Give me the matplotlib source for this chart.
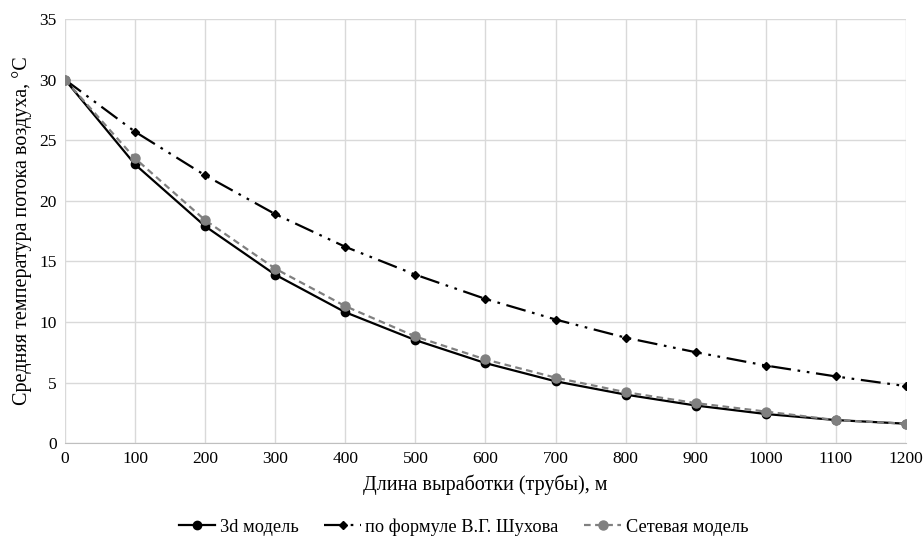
import matplotlib
matplotlib.use('Agg')
import matplotlib.pyplot as plt

plt.rcParams['font.family'] = ['Liberation Serif', 'DejaVu Serif']

length = [0, 100, 200, 300, 400, 500, 600, 700, 800, 900, 1000, 1100, 1200]
model_3d = [30, 23.0, 17.9, 13.9, 10.8, 8.5, 6.6, 5.1, 4.0, 3.1, 2.4, 1.9, 1.6]
shukhov = [30, 25.7, 22.1, 18.9, 16.2, 13.9, 11.9, 10.2, 8.7, 7.5, 6.4, 5.5, 4.7]
network = [30, 23.5, 18.4, 14.4, 11.3, 8.8, 6.9, 5.4, 4.2, 3.3, 2.6, 1.9, 1.6]

fig = plt.figure(figsize=(9.23, 5.45), dpi=100)
ax = fig.add_axes([0.0704, 0.187, 0.9112, 0.778])

ax.plot(length, model_3d, color='black', lw=1.6, marker='o', ms=6,
        label='3d модель', zorder=3)
ax.plot(length, shukhov, color='black', lw=1.6, marker='D', ms=4.5,
        dashes=(9, 3, 1.2, 3, 1.2, 3), label='по формуле В.Г. Шухова', zorder=3)
ax.plot(length, network, color='#808080', lw=1.6, marker='o', ms=6.5,
        linestyle='--', dashes=(3, 2), label='Сетевая модель', zorder=4)

ax.set_xlim(0, 1200)
ax.set_ylim(0, 35)
ax.set_xticks(length)
ax.set_yticks(range(0, 36, 5))
ax.grid(True, color='#d9d9d9', lw=1)
ax.set_axisbelow(True)
for s in ['top', 'right', 'left']:
    ax.spines[s].set_visible(False)
ax.spines['bottom'].set_color('#bfbfbf')
ax.tick_params(length=0, labelsize=12.5, pad=6)

ax.set_xlabel('Длина выработки (трубы), м', fontsize=14.5, labelpad=5)
ax.set_ylabel('Средняя температура потока воздуха, °С', fontsize=14.5, labelpad=5)

fig.legend(loc='center', bbox_to_anchor=(0.502, 0.033), ncol=3, frameon=False,
           fontsize=13.2, handlelength=2.0, handletextpad=0.25, columnspacing=1.4)

fig.savefig('out.png', dpi=100)
